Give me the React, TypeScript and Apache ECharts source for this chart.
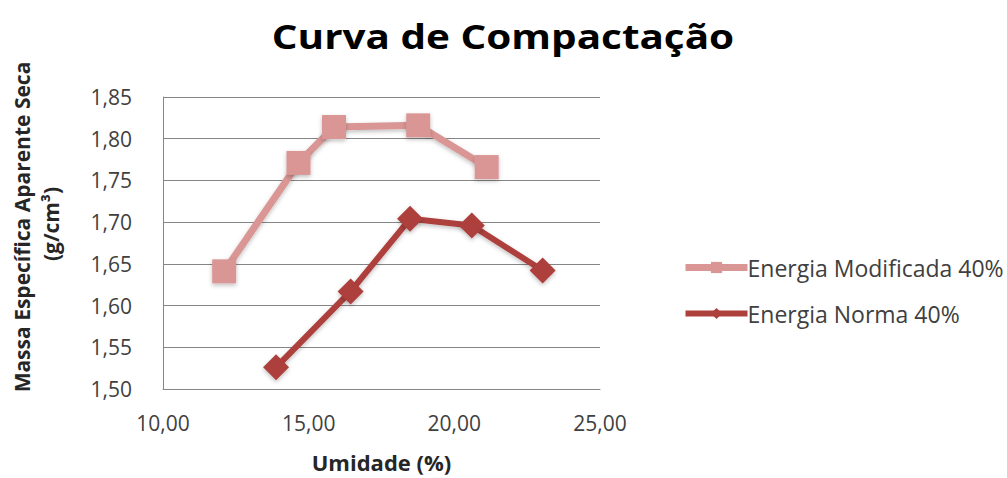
import React, { useEffect, useRef } from "react";
import * as echarts from "echarts";

const titleText = "Curva de Compactação";
const xAxisTitle = "Umidade (%)";
const yAxisTitle1 = "Massa Específica Aparente Seca";
const yAxisTitle2 = "(g/cm³)";

const seriesNames = ["Energia Modificada 40%", "Energia Norma 40%"];
const modificadaX = [12.1, 14.65, 15.87, 18.76, 21.11];
const modificadaY = [1.641, 1.771, 1.814, 1.816, 1.766];
const normaX = [13.88, 16.44, 18.48, 20.6, 23.03];
const normaY = [1.526, 1.617, 1.704, 1.696, 1.642];

const FONT = "'Open Sans', sans-serif";
const MOD_COLOR = "#d99694";
const NOR_COLOR = "#ad3f3d";

const fmt = (v: number) => v.toFixed(2).replace(".", ",");

export default function App() {
  const ref = useRef<HTMLDivElement>(null);
  useEffect(() => {
    if (!ref.current) return;
    const chart = echarts.init(ref.current, null, { renderer: "svg" });
    const mod = modificadaX.map((x, i) => [x, modificadaY[i]]);
    const nor = normaX.map((x, i) => [x, normaY[i]]);
    const shadow = { shadowBlur: 4, shadowColor: "rgba(0,0,0,0.25)", shadowOffsetY: 2 };
    chart.setOption({
      animation: false,
      backgroundColor: "#ffffff",
      grid: { left: 163, right: 407, top: 97, bottom: 86 },
      xAxis: {
        type: "value",
        min: 10,
        max: 25,
        interval: 5,
        name: xAxisTitle,
        nameLocation: "middle",
        nameGap: 62,
        nameTextStyle: { fontFamily: FONT, fontSize: 22, fontWeight: "bold", color: "#262626" },
        axisLine: { show: true, lineStyle: { color: "#868686", width: 1 } },
        axisTick: { show: false },
        splitLine: { show: false },
        axisLabel: { formatter: fmt, margin: 23, fontFamily: FONT, fontSize: 21, color: "#404040" },
      },
      yAxis: {
        type: "value",
        min: 1.5,
        max: 1.85,
        interval: 0.05,
        axisLine: { show: true, lineStyle: { color: "#868686", width: 1 } },
        axisTick: { show: false },
        splitLine: { show: true, lineStyle: { color: "#868686", width: 1 } },
        axisLabel: { formatter: fmt, margin: 31, fontFamily: FONT, fontSize: 21, color: "#404040" },
      },
      legend: {
        orient: "vertical",
        left: 677,
        top: 251,
        itemWidth: 62,
        itemHeight: 14,
        itemGap: 23,
        textStyle: { fontFamily: FONT, fontSize: 23, color: "#404040", padding: [0, 0, 0, -5] },
        data: [
          { name: seriesNames[0], lineStyle: { width: 7 } },
          { name: seriesNames[1], lineStyle: { width: 6 } },
        ],
      },
      graphic: [
        {
          type: "text",
          x: 503,
          y: 36,
          scaleX: 1.19,
          style: {
            text: titleText,
            fontFamily: FONT,
            fontSize: 34,
            fontWeight: "bold",
            fill: "#000000",
            align: "center",
            verticalAlign: "middle",
          },
        },
        {
          type: "text",
          x: 22,
          y: 227,
          rotation: Math.PI / 2,
          style: {
            text: yAxisTitle1,
            fontFamily: FONT,
            fontSize: 21,
            fontWeight: "bold",
            fill: "#262626",
            align: "center",
            verticalAlign: "middle",
          },
        },
        {
          type: "text",
          x: 51,
          y: 224,
          rotation: Math.PI / 2,
          style: {
            text: yAxisTitle2,
            fontFamily: FONT,
            fontSize: 21,
            fontWeight: "bold",
            fill: "#262626",
            align: "center",
            verticalAlign: "middle",
          },
        },
      ],
      series: [
        {
          name: seriesNames[0],
          type: "line",
          data: mod,
          symbol: "rect",
          symbolSize: 24,
          lineStyle: { color: MOD_COLOR, width: 7, ...shadow },
          itemStyle: { color: MOD_COLOR, ...shadow },
        },
        {
          name: seriesNames[1],
          type: "line",
          data: nor,
          symbol: "diamond",
          symbolSize: 26,
          lineStyle: { color: NOR_COLOR, width: 6, ...shadow },
          itemStyle: { color: NOR_COLOR, ...shadow },
        },
      ],
    });
    return () => chart.dispose();
  }, []);
  return <div ref={ref} style={{ width: 1007, height: 478, position: "absolute", left: 0, top: 0 }} />;
}
